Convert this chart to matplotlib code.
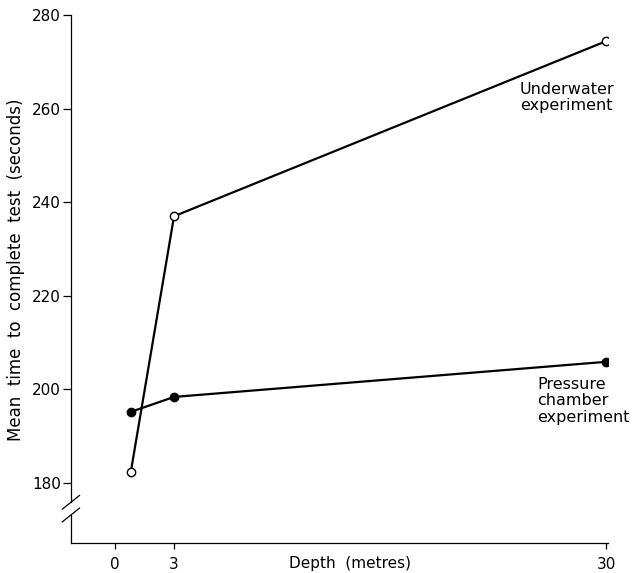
import numpy as np
import matplotlib
matplotlib.use('Agg')
import matplotlib.pyplot as plt

# depth (m) and mean completion time (s)
depth = [0.8, 3, 30]
underwater = [182.3, 237.0, 274.4]
pressure = [195.2, 198.4, 205.9]

xticks = [0, 3, 30]
yticks = [180, 200, 220, 240, 260, 280]

plt.rcParams['font.family'] = ['DejaVu Sans']

# the printed depth axis stretches the first few metres a little
k = 1.23

def fwd(x):
    x = np.asarray(x, dtype=float)
    return np.where(x < 3, x * k, 3 * k + (x - 3))

def inv(t):
    t = np.asarray(t, dtype=float)
    return np.where(t < 3 * k, t / k, t - 3 * k + 3)


fig = plt.figure(figsize=(6.33, 5.73), dpi=100)
ax = fig.add_axes([0.112, 0.0524, 0.8486, 0.9215])
ax.set_xscale('function', functions=(fwd, inv))

ax.plot(depth, underwater, color='black', lw=1.6, marker='o', ms=6,
        mfc='white', mec='black', mew=1.0, zorder=3)
ax.plot(depth, pressure, color='black', lw=1.6, marker='o', ms=6,
        mfc='black', mec='black', zorder=3)

ax.set_xlim(-2.24, 30.12)
ax.set_ylim(167.2, 280)
ax.set_xticks(xticks)
ax.set_yticks(yticks)

for s in ['top', 'right']:
    ax.spines[s].set_visible(False)
ax.spines['left'].set_linewidth(0.9)
ax.spines['bottom'].set_linewidth(0.9)
ax.spines['left'].set_bounds(175.9, 280)

ax.tick_params(axis='y', direction='out', length=6, width=0.9, pad=1, labelsize=11)
ax.tick_params(axis='x', direction='out', length=4, width=0.9, pad=6, labelsize=11)

# axis break on the y axis
ax.plot([0, 0], [0, 0.053], color='black', lw=0.9, transform=ax.transAxes, clip_on=False)
for yb in [0.077, 0.053]:
    ax.plot([-0.016, 0.016], [yb - 0.013, yb + 0.013], color='black', lw=0.9,
            transform=ax.transAxes, clip_on=False)

ax.set_ylabel('Mean  time  to  complete  test  (seconds)', fontsize=12)
ax.yaxis.set_label_coords(-0.085, 0.517)
ax.set_xlabel('Depth  (metres)', fontsize=11)
ax.xaxis.set_label_coords(0.52, -0.038)
ax.xaxis.label.set_va('center')

ax.text(0.836, 0.873, 'Underwater\nexperiment', transform=ax.transAxes,
        ha='left', va='top', fontsize=11.5, linespacing=1.1)
ax.text(0.868, 0.314, 'Pressure\nchamber\nexperiment', transform=ax.transAxes,
        ha='left', va='top', fontsize=11.5, linespacing=1.1)

fig.savefig('out.png', dpi=100)
